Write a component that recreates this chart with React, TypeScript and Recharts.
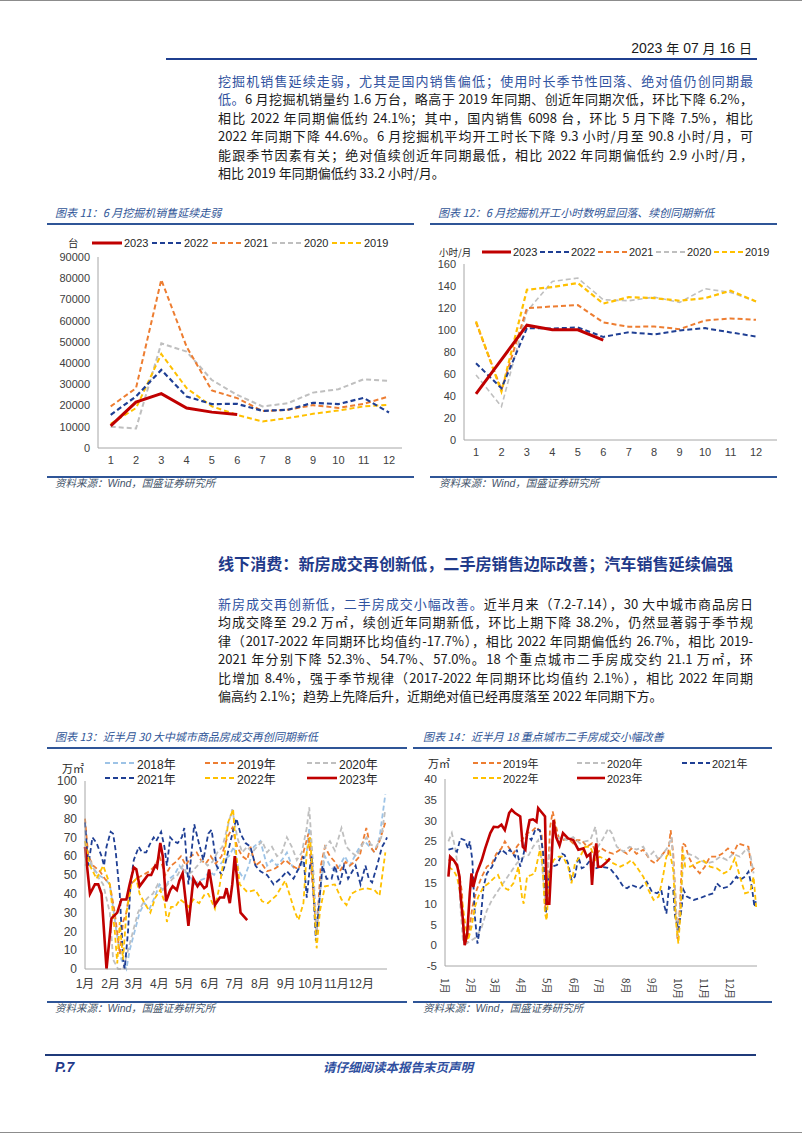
import React from "react";
import { LineChart, Line, XAxis, YAxis } from "recharts";

// ---- 图表 11 / 12 data (monthly) ----
const months = ["1", "2", "3", "4", "5", "6", "7", "8", "9", "10", "11", "12"];

const sales2023 = [10400, 21600, 25600, 18800, 16900, 15800];
const sales2022 = [15600, 24300, 36800, 24300, 20700, 20800, 17500, 18000, 21300, 20700, 23600, 16700];
const sales2021 = [19600, 28200, 79300, 47700, 27100, 23500, 17400, 18000, 20200, 18900, 20800, 24300];
const sales2020 = [10000, 9200, 49300, 45400, 32000, 25000, 19600, 21100, 26100, 27700, 32400, 31600];
const sales2019 = [11400, 18800, 44300, 28200, 19600, 15600, 12500, 14100, 16100, 17700, 19600, 20300];

const hours2023 = [42, 73, 104.4, 100.2, 100.2, 90.8];
const hours2022 = [69.8, 47, 101.7, 101.4, 102.3, 93.7, 98, 96, 99.6, 101.7, 97.8, 94.1];
const hours2021 = [106.9, 45.5, 119.9, 121.4, 122.6, 106.9, 102.9, 103.2, 100.8, 108.7, 110.5, 109.3];
const hours2020 = [59.2, 30.4, 116.9, 144.2, 147.2, 127.5, 126.6, 129.9, 125.1, 137.5, 134.2, 126];
const hours2019 = [107.8, 44, 136.6, 139, 142.7, 124, 129.9, 129, 126.6, 129, 135.7, 126];

const salesTicks = [0, 10000, 20000, 30000, 40000, 50000, 60000, 70000, 80000, 90000];
const hoursTicks = [0, 20, 40, 60, 80, 100, 120, 140, 160];

// ---- 图表 13 / 14 data: [day of year, value] ----
type Pair = [number, number];

const monthStarts = [0, 31, 59, 90, 120, 151, 181, 212, 243, 273, 304, 334];
const monthLabels = ["1月", "2月", "3月", "4月", "5月", "6月", "7月", "8月", "9月", "10月", "11月", "12月"];

const nh2018: Pair[] = [[0,60],[8,55],[16,50],[24,48],[30,45],[38,20],[44,5],[50,0],[54,10],[60,20],[66,30],[72,35],[78,32],[84,38],[90,45],[96,42],[102,48],[108,50],[114,55],[120,52],[126,50],[132,45],[138,47],[144,48],[150,52],[156,50],[162,55],[168,58],[174,60],[180,65],[186,52],[192,48],[198,55],[204,65],[212,68],[220,55],[226,58],[232,55],[238,58],[244,62],[250,55],[256,52],[262,55],[268,62],[271,75],[276,40],[280,20],[285,45],[290,60],[296,55],[302,52],[308,55],[314,60],[320,55],[326,60],[332,65],[338,68],[344,65],[350,62],[356,70],[363,93]];
const nh2019: Pair[] = [[0,80],[4,60],[10,55],[18,52],[24,48],[30,45],[36,30],[42,8],[46,25],[50,30],[55,45],[62,48],[70,50],[78,52],[85,55],[90,60],[97,50],[104,55],[110,57],[116,60],[122,55],[128,60],[135,62],[140,58],[146,56],[152,60],[158,56],[165,60],[172,70],[178,75],[184,65],[190,60],[196,58],[200,65],[206,55],[212,57],[220,52],[228,53],[235,55],[242,58],[250,55],[258,53],[264,62],[270,72],[276,40],[280,20],[285,55],[290,65],[296,60],[302,57],[308,52],[315,57],[320,55],[326,57],[332,60],[337,70],[340,75],[345,65],[350,62],[356,68],[363,78]];
const nh2020: Pair[] = [[0,55],[6,58],[14,50],[22,45],[30,30],[34,5],[40,0],[46,0],[52,10],[58,20],[64,30],[70,35],[76,38],[82,40],[88,45],[94,42],[100,45],[106,48],[112,50],[118,55],[124,50],[130,52],[136,55],[142,58],[148,55],[154,57],[160,62],[166,65],[172,75],[178,85],[184,70],[190,62],[196,65],[202,62],[208,65],[214,68],[220,62],[226,65],[232,60],[238,62],[244,70],[250,65],[256,58],[262,62],[268,75],[271,86],[275,60],[280,20],[285,45],[290,65],[296,68],[302,63],[310,75],[316,65],[322,62],[328,60],[334,65],[340,70],[346,66],[352,65],[358,70],[363,85]];
const nh2021: Pair[] = [[0,78],[4,55],[9,70],[14,67],[20,60],[23,55],[26,65],[31,73],[34,72],[37,63],[42,40],[46,5],[48,0],[52,20],[55,45],[59,58],[65,65],[69,62],[74,62],[78,66],[83,70],[86,68],[92,73],[96,65],[99,55],[103,70],[107,68],[112,67],[117,70],[120,75],[125,45],[132,77],[137,68],[143,58],[149,72],[153,74],[159,55],[165,50],[169,55],[177,70],[183,80],[188,72],[194,67],[200,65],[206,55],[212,52],[220,50],[228,45],[236,48],[244,52],[252,48],[260,55],[264,60],[268,38],[272,55],[274,60],[279,15],[283,35],[287,55],[292,48],[298,48],[302,55],[308,45],[313,55],[318,48],[327,55],[333,45],[339,55],[343,48],[347,46],[353,55],[359,65],[363,68],[365,70]];
const nh2022: Pair[] = [[0,68],[6,55],[14,48],[22,55],[30,45],[36,20],[39,3],[42,25],[46,5],[50,30],[56,45],[62,48],[66,40],[72,35],[79,30],[85,38],[91,42],[96,36],[99,25],[104,33],[109,33],[115,37],[121,35],[125,33],[131,37],[138,35],[145,40],[149,40],[157,32],[163,45],[169,62],[173,78],[179,85],[183,60],[187,45],[196,41],[206,42],[214,36],[221,35],[231,39],[242,47],[254,30],[258,26],[264,35],[268,62],[272,70],[276,44],[280,11],[284,31],[290,44],[302,45],[310,37],[316,34],[322,40],[330,42],[340,43],[350,42],[356,39],[363,62]];
const nh2023: Pair[] = [[0,65],[6,40],[12,45],[16,45],[20,40],[26,0],[32,27],[39,30],[44,37],[50,37],[54,45],[59,54],[62,53],[66,44],[71,47],[76,50],[80,50],[85,55],[87,54],[91,67],[94,60],[98,36],[103,42],[106,44],[111,42],[114,47],[118,51],[125,23],[131,48],[136,44],[139,46],[144,43],[147,44],[150,53],[153,45],[157,34],[163,38],[168,38],[171,43],[175,35],[178,45],[181,60],[188,30],[192,28],[196,26]];

const sh2019: Pair[] = [[4,20.5],[10,20.5],[16,18],[20,12.5],[21,5.2],[25,0.4],[28,2.8],[32,9.2],[37,13.3],[43,16.5],[49,18.9],[55,19.7],[60,22],[66,23.3],[70,25],[74,23.7],[80,22],[84,23.7],[90,25.3],[96,27],[101,27.3],[107,28.5],[113,27],[117,9.2],[119,10.9],[123,28.5],[126,32.2],[129,29.3],[133,26],[138,25.3],[144,25.7],[150,24.5],[154,25.3],[160,25.3],[166,23.7],[172,24.5],[177,22],[183,23.3],[189,22.5],[197,22],[205,23],[213,22],[218,23.3],[224,22],[232,23],[240,20.5],[246,19.7],[252,21.3],[257,22.5],[261,22],[264,27.7],[267,22],[270,10],[272,1.2],[275,10],[278,24.5],[281,24.1],[285,21.3],[291,18.9],[298,17.3],[304,18.9],[310,21.3],[318,21.3],[324,22],[331,23.3],[337,22],[343,24.5],[349,24.1],[355,23.7],[359,18],[363,18.9]];
const sh2020: Pair[] = [[4,25],[8,27],[12,23.3],[16,17.3],[18,9.2],[21,1.2],[25,0.4],[31,1.2],[37,2],[43,4.4],[49,8.4],[55,10.9],[60,12.5],[68,14.9],[76,17.3],[84,19.7],[92,21.3],[98,21.7],[103,23.7],[109,25.3],[113,20.5],[117,10.9],[121,20.5],[125,25.3],[131,25.7],[137,26],[142,25.3],[150,26],[158,24.5],[164,25],[170,25.3],[176,28.5],[179,23.7],[185,25.7],[191,28.1],[195,27],[201,23.7],[209,22.5],[216,23.7],[224,23],[232,23.7],[238,21.3],[244,22.5],[250,20.5],[255,22],[261,23.7],[265,26],[269,14],[272,2],[275,9.2],[279,20.5],[285,22],[293,21.3],[298,20.5],[306,19.7],[314,20.1],[322,21.3],[330,20.5],[337,22],[345,21.3],[353,23.3],[357,22],[361,17.3]];
const sh2021: Pair[] = [[4,23],[10,23.3],[14,22.5],[18,25.7],[23,25.3],[27,23.3],[29,25],[32,20.5],[35,6.8],[38,0.4],[41,4.4],[45,14],[49,17.3],[55,18.9],[60,21.3],[66,23],[72,22],[76,23],[82,21.3],[84,23],[88,18.9],[92,22],[96,26.5],[101,25.3],[106,28],[111,27.7],[115,22],[118,7.6],[121,16.5],[125,18.9],[131,19.3],[137,22],[140,21.7],[144,19.7],[148,15.7],[152,16.5],[156,21.3],[160,18.5],[164,18.9],[170,20.5],[176,18.5],[183,18.9],[193,18.5],[201,16.5],[209,14],[213,13.7],[218,14.5],[228,13.7],[236,15.3],[242,12.9],[248,12.5],[253,13.3],[257,9.2],[259,7.6],[262,14],[267,13.3],[269,7.2],[273,3.6],[276,7.6],[279,13.3],[283,11.7],[291,10.9],[298,11.3],[306,12],[314,12.5],[318,14.9],[324,13.7],[330,14],[335,14.9],[341,16.5],[345,15.7],[351,16.5],[355,17.7],[359,14],[362,9.2],[364,10.9]];
const sh2022: Pair[] = [[4,18.9],[10,18],[14,16.5],[18,12.5],[21,9.2],[23,6],[27,1.2],[31,4.4],[35,9.2],[39,11.7],[45,14],[51,14.9],[57,16.1],[62,16.9],[68,14],[74,13.3],[80,14.9],[86,18.9],[90,11.7],[92,10],[96,16.5],[101,16.9],[105,17.3],[111,23],[114,19.7],[117,7.6],[119,6],[122,17.3],[127,20.5],[133,21.3],[138,21.3],[144,18.9],[148,14.9],[152,19.7],[158,21.3],[164,23.7],[170,23.7],[176,20.5],[181,21.3],[189,20.5],[197,19.7],[205,18.9],[213,19.7],[218,20.5],[224,18.9],[232,16.5],[238,13.3],[244,10.9],[250,11.7],[255,16.5],[259,21.3],[263,22.5],[267,18],[270,6],[273,0.4],[276,9.2],[278,23],[281,18.9],[287,18.9],[294,19.7],[302,20.5],[310,18.9],[318,18.5],[326,17.3],[333,18],[339,20.9],[345,16.5],[351,12.5],[357,12.9],[361,16.5],[364,9.2]];
const sh2023: Pair[] = [[4,16.5],[6,21.3],[10,20.5],[14,19.3],[17,16.5],[18,12.5],[21,6],[23,0],[26,2.8],[29,12.5],[31,17.3],[33,14],[37,17.3],[43,20.5],[47,23.3],[53,27],[57,28.5],[62,28.4],[66,29],[70,27.7],[72,29.3],[75,31.8],[78,32.6],[82,31.8],[88,31],[91,23.7],[94,23],[96,27],[99,30.1],[103,30.3],[107,29.7],[109,33],[113,32],[117,31],[119,10],[122,10],[125,22],[127,30.1],[130,26],[134,24],[138,27],[144,25.7],[150,25.3],[156,23],[162,23.3],[166,21.3],[170,22],[172,14.5],[174,20.5],[177,24.5],[179,18.9],[183,18.9],[189,20],[193,20.9]];

const nhTicks = [0, 10, 20, 30, 40, 50, 60, 70, 80, 90, 100];
const shTicks = [-5, 0, 5, 10, 15, 20, 25, 30, 35, 40];

// ---- styles ----
const RED = "#c00000";
const NAVY = "#1f3f94";
const ORANGE = "#ed7d31";
const GRAY = "#bfbfbf";
const YELLOW = "#ffc000";
const LIGHTBLUE = "#9dc3e6";
const TITLE_BLUE = "#2f5597";
const TEXT_BLUE = "#2f52a0";

const NUM_FONT = '"Liberation Sans", Arial, "Noto Sans CJK SC", sans-serif';
const CJK_FONT = '"Noto Sans CJK SC", "Liberation Sans", sans-serif';

type Sw = { label: string; color: string; width: number; dash?: string };

const toRows = (pairs: Pair[]) => pairs.map(([d, v]) => ({ d, v }));

const monthlyRows = (series: Record<string, number[]>) =>
  months.map((m, i) => {
    const row: Record<string, string | number | undefined> = { m };
    Object.keys(series).forEach((k) => {
      row[k] = series[k][i];
    });
    return row;
  });

const salesRows = monthlyRows({ y2023: sales2023, y2022: sales2022, y2021: sales2021, y2020: sales2020, y2019: sales2019 });
const hoursRows = monthlyRows({ y2023: hours2023, y2022: hours2022, y2021: hours2021, y2020: hours2020, y2019: hours2019 });

const Abs: React.FC<{ x: number; y: number; style?: React.CSSProperties; children?: React.ReactNode }> = ({ x, y, style, children }) => (
  <div style={{ position: "absolute", left: x, top: y, whiteSpace: "nowrap", ...style }}>{children}</div>
);

// legend item: x = swatch start, y = vertical centre
const LegendItem: React.FC<{ x: number; y: number; sw: Sw; len: number; fontSize: number }> = ({ x, y, sw, len, fontSize }) => (
  <div style={{ position: "absolute", left: x, top: y - 8, height: 16, display: "flex", alignItems: "center", whiteSpace: "nowrap", fontFamily: NUM_FONT, fontSize, color: "#262626" }}>
    <svg width={len} height={6} style={{ display: "block" }}>
      <line x1={0} y1={3} x2={len} y2={3} stroke={sw.color} strokeWidth={sw.width} strokeDasharray={sw.dash} />
    </svg>
    <span style={{ marginLeft: 2 }}>{sw.label}</span>
  </div>
);

const HLine: React.FC<{ x1: number; x2: number; y: number; color?: string; w?: number }> = ({ x1, x2, y, color = TITLE_BLUE, w = 1.5 }) => (
  <div style={{ position: "absolute", left: x1, top: y - w / 2, width: x2 - x1, height: w, background: color }} />
);

const ChartTitle: React.FC<{ x: number; y: number; text: string }> = ({ x, y, text }) => (
  <Abs x={x} y={y - 8} style={{ fontFamily: CJK_FONT, fontStyle: "italic", fontSize: 11, lineHeight: "16px", color: TITLE_BLUE }}>
    {text}
  </Abs>
);

const Source: React.FC<{ x: number; y: number }> = ({ x, y }) => (
  <Abs x={x} y={y - 8} style={{ fontFamily: CJK_FONT, fontStyle: "italic", fontSize: 10.5, lineHeight: "16px", color: "#44546a" }}>
    资料来源：<span style={{ fontFamily: NUM_FONT }}>Wind</span>，国盛证券研究所
  </Abs>
);

// justified text line, centred at y
const TextLine: React.FC<{ y: number; last?: boolean; children?: React.ReactNode }> = ({ y, last, children }) => (
  <div
    style={{
      position: "absolute",
      left: 218,
      width: 535,
      top: y - 9.5,
      height: 19,
      lineHeight: "19px",
      fontFamily: CJK_FONT,
      fontSize: 13,
      color: "#1a1a1a",
      textAlign: last ? "left" : "justify",
      textAlignLast: last ? "left" : "justify",
    }}
  >
    {children}
  </div>
);

const Blue: React.FC<{ children?: React.ReactNode }> = ({ children }) => <span style={{ color: TEXT_BLUE }}>{children}</span>;

const axisTick = { fontSize: 11, fill: "#404040", fontFamily: NUM_FONT };
const axisLine = { stroke: "#a6a6a6", strokeWidth: 1 };

const RotTick = (props: any) => {
  const { x, y, payload } = props;
  return (
    <text x={x} y={y + 4} transform={`rotate(90, ${x}, ${y + 4})`} textAnchor="start" dominantBaseline="central" fontSize={10} fill="#404040" fontFamily={CJK_FONT}>
      {monthLabels[monthStarts.indexOf(payload.value)]}
    </text>
  );
};

const legend11: Sw[] = [
  { label: "2023", color: RED, width: 3 },
  { label: "2022", color: NAVY, width: 2.2, dash: "5 3" },
  { label: "2021", color: ORANGE, width: 2, dash: "5 3" },
  { label: "2020", color: GRAY, width: 2, dash: "5 3" },
  { label: "2019", color: YELLOW, width: 2, dash: "5 3" },
];

const legend13: Sw[] = [
  { label: "2018年", color: LIGHTBLUE, width: 2, dash: "5 3" },
  { label: "2019年", color: ORANGE, width: 2, dash: "5 3" },
  { label: "2020年", color: GRAY, width: 2, dash: "5 3" },
  { label: "2021年", color: NAVY, width: 2, dash: "5 3" },
  { label: "2022年", color: YELLOW, width: 2, dash: "5 3" },
  { label: "2023年", color: RED, width: 2.6 },
];

const legend14: Sw[] = legend13.slice(1);

const App: React.FC = () => {
  return (
    <div style={{ position: "absolute", left: 0, top: 0, width: 802, height: 1133, background: "#fff", overflow: "hidden" }}>
      {/* page edges */}
      <HLine x1={0} x2={802} y={0.5} color="#8c8c8c" w={1} />
      <HLine x1={0} x2={802} y={1132.5} color="#8c8c8c" w={1} />

      {/* header */}
      <Abs x={552} y={39} style={{ width: 200, textAlign: "right", fontFamily: NUM_FONT, fontSize: 14, lineHeight: "18px", color: "#1a1a1a" }}>
        2023 <span style={{ fontFamily: CJK_FONT, fontSize: 13 }}>年</span> 07 <span style={{ fontFamily: CJK_FONT, fontSize: 13 }}>月</span> 16{" "}
        <span style={{ fontFamily: CJK_FONT, fontSize: 13 }}>日</span>
      </Abs>
      <HLine x1={166} x2={757} y={59} color="#1f3f8f" w={2} />

      {/* paragraph 1 */}
      <TextLine y={80}>
        <Blue>挖掘机销售延续走弱，尤其是国内销售偏低；使用时长季节性回落、绝对值仍创同期最</Blue>
      </TextLine>
      <TextLine y={98.5}>
        <Blue>低。</Blue>6 月挖掘机销量约 1.6 万台，略高于 2019 年同期、创近年同期次低，环比下降 6.2%，
      </TextLine>
      <TextLine y={117}>相比 2022 年同期偏低约 24.1%；其中，国内销售 6098 台，环比 5 月下降 7.5%，相比</TextLine>
      <TextLine y={135.5}>2022 年同期下降 44.6%。6 月挖掘机平均开工时长下降 9.3 小时/月至 90.8 小时/月，可</TextLine>
      <TextLine y={154}>能跟季节因素有关；绝对值续创近年同期最低，相比 2022 年同期偏低约 2.9 小时/月，</TextLine>
      <TextLine y={172.5} last>
        相比 2019 年同期偏低约 33.2 小时/月。
      </TextLine>

      {/* chart 11 */}
      <ChartTitle x={55} y={212} text="图表 11：6 月挖掘机销售延续走弱" />
      <HLine x1={47} x2={414} y={224} />
      <Abs x={68} y={235} style={{ fontFamily: CJK_FONT, fontSize: 10.5, lineHeight: "16px", color: "#262626" }}>台</Abs>
      {legend11.map((s, i) => (
        <LegendItem key={s.label} x={92 + i * 60} y={243} sw={s} len={30} fontSize={11} />
      ))}
      <div style={{ position: "absolute", left: 40, top: 230 }}>
        <LineChart width={370} height={245} data={salesRows} margin={{ top: 27, right: 8, left: 8, bottom: 7 }}>
          <XAxis dataKey="m" height={20} tick={axisTick} tickLine={false} axisLine={axisLine} padding={{ left: 12.7, right: 13 }} interval={0} />
          <YAxis width={50} domain={[0, 90000]} ticks={salesTicks} tick={axisTick} tickLine={false} axisLine={axisLine} interval={0} />
          <Line dataKey="y2020" stroke={GRAY} strokeWidth={2} strokeDasharray="5 3" dot={false} isAnimationActive={false} />
          <Line dataKey="y2021" stroke={ORANGE} strokeWidth={2} strokeDasharray="5 3" dot={false} isAnimationActive={false} />
          <Line dataKey="y2019" stroke={YELLOW} strokeWidth={2} strokeDasharray="5 3" dot={false} isAnimationActive={false} />
          <Line dataKey="y2022" stroke={NAVY} strokeWidth={2.2} strokeDasharray="5 3" dot={false} isAnimationActive={false} />
          <Line dataKey="y2023" stroke={RED} strokeWidth={3} dot={false} isAnimationActive={false} />
        </LineChart>
      </div>
      <HLine x1={47} x2={414} y={477} />
      <Source x={55} y={483} />

      {/* chart 12 */}
      <ChartTitle x={438} y={212} text="图表 12：6 月挖掘机开工小时数明显回落、续创同期新低" />
      <HLine x1={430} x2={777} y={224} />
      <Abs x={439} y={244} style={{ fontFamily: CJK_FONT, fontSize: 9.5, lineHeight: "16px", color: "#262626" }}>小时/月</Abs>
      {legend11.map((s, i) => (
        <LegendItem key={s.label} x={482 + i * 58} y={252} sw={s} len={29} fontSize={11} />
      ))}
      <div style={{ position: "absolute", left: 415, top: 235 }}>
        <LineChart width={370} height={240} data={hoursRows} margin={{ top: 29, right: 8, left: 9, bottom: 15 }}>
          <XAxis dataKey="m" height={20} tick={axisTick} tickLine={false} axisLine={axisLine} padding={{ left: 12, right: 21 }} interval={0} />
          <YAxis width={40} domain={[0, 160]} ticks={hoursTicks} tick={axisTick} tickLine={false} axisLine={axisLine} interval={0} />
          <Line dataKey="y2020" stroke={GRAY} strokeWidth={1.6} strokeDasharray="5 3" dot={false} isAnimationActive={false} />
          <Line dataKey="y2021" stroke={ORANGE} strokeWidth={2} strokeDasharray="5 3" dot={false} isAnimationActive={false} />
          <Line dataKey="y2019" stroke={YELLOW} strokeWidth={2.2} strokeDasharray="5 3" dot={false} isAnimationActive={false} />
          <Line dataKey="y2022" stroke={NAVY} strokeWidth={2} strokeDasharray="5 3" dot={false} isAnimationActive={false} />
          <Line dataKey="y2023" stroke={RED} strokeWidth={3} dot={false} isAnimationActive={false} />
        </LineChart>
      </div>
      <HLine x1={430} x2={777} y={477} />
      <Source x={439} y={483} />

      {/* section heading */}
      <Abs x={218} y={553} style={{ fontFamily: CJK_FONT, fontWeight: 700, fontSize: 16.1, lineHeight: "20px", color: "#1f3a8a" }}>
        线下消费：新房成交再创新低，二手房销售边际改善；汽车销售延续偏强
      </Abs>

      {/* paragraph 2 */}
      <TextLine y={603}>
        <Blue>新房成交再创新低，二手房成交小幅改善。</Blue>近半月来（7.2-7.14），30 大中城市商品房日
      </TextLine>
      <TextLine y={621.5}>均成交降至 29.2 万㎡，续创近年同期新低，环比上期下降 38.2%，仍然显著弱于季节规</TextLine>
      <TextLine y={640}>律（2017-2022 年同期环比均值约-17.7%），相比 2022 年同期偏低约 26.7%，相比 2019-</TextLine>
      <TextLine y={658.5}>2021 年分别下降 52.3%、54.7%、57.0%。18 个重点城市二手房成交约 21.1 万㎡，环</TextLine>
      <TextLine y={677}>比增加 8.4%，强于季节规律（2017-2022 年同期环比均值约 2.1%），相比 2022 年同期</TextLine>
      <TextLine y={695.5} last>
        偏高约 2.1%；趋势上先降后升，近期绝对值已经再度落至 2022 年同期下方。
      </TextLine>

      {/* chart 13 */}
      <ChartTitle x={55} y={736} text="图表 13：近半月 30 大中城市商品房成交再创同期新低" />
      <HLine x1={47} x2={407} y={748} />
      <Abs x={62} y={762} style={{ fontFamily: CJK_FONT, fontSize: 11, lineHeight: "12px", color: "#262626" }}>万㎡</Abs>
      {legend13.map((s, i) => (
        <LegendItem key={s.label} x={[105, 205, 307][i % 3]} y={i < 3 ? 763 : 778} sw={s} len={30} fontSize={12} />
      ))}
      <div style={{ position: "absolute", left: 40, top: 755 }}>
        <LineChart width={370} height={245} margin={{ top: 26, right: 23, left: 5, bottom: 7 }}>
          <XAxis
            type="number"
            dataKey="d"
            domain={[0, 365]}
            ticks={monthStarts}
            tickFormatter={(v: number) => monthLabels[monthStarts.indexOf(v)]}
            height={24}
            tick={{ ...axisTick, fontSize: 12 }}
            tickLine={false}
            tickMargin={4}
            axisLine={axisLine}
            interval={0}
            allowDuplicatedCategory={false}
          />
          <YAxis width={40} domain={[0, 100]} ticks={nhTicks} tick={{ ...axisTick, fontSize: 12 }} tickLine={false} axisLine={axisLine} interval={0} />
          <Line data={toRows(nh2018)} dataKey="v" stroke={LIGHTBLUE} strokeWidth={1.8} strokeDasharray="5 3" dot={false} isAnimationActive={false} />
          <Line data={toRows(nh2019)} dataKey="v" stroke={ORANGE} strokeWidth={1.8} strokeDasharray="5 3" dot={false} isAnimationActive={false} />
          <Line data={toRows(nh2020)} dataKey="v" stroke={GRAY} strokeWidth={1.8} strokeDasharray="5 3" dot={false} isAnimationActive={false} />
          <Line data={toRows(nh2021)} dataKey="v" stroke={NAVY} strokeWidth={1.8} strokeDasharray="5 3" dot={false} isAnimationActive={false} />
          <Line data={toRows(nh2022)} dataKey="v" stroke={YELLOW} strokeWidth={1.8} strokeDasharray="5 3" dot={false} isAnimationActive={false} />
          <Line data={toRows(nh2023)} dataKey="v" stroke={RED} strokeWidth={2.6} dot={false} isAnimationActive={false} />
        </LineChart>
      </div>
      <HLine x1={47} x2={407} y={1002} />
      <Source x={55} y={1008} />

      {/* chart 14 */}
      <ChartTitle x={423} y={736} text="图表 14：近半月 18 重点城市二手房成交小幅改善" />
      <HLine x1={413} x2={772} y={748} />
      <Abs x={428} y={756} style={{ fontFamily: CJK_FONT, fontSize: 11, lineHeight: "14px", color: "#262626" }}>万㎡</Abs>
      {legend14.map((s, i) => (
        <LegendItem key={s.label} x={[473, 577, 682][i % 3]} y={i < 3 ? 763 : 778} sw={s} len={28} fontSize={11} />
      ))}
      <div style={{ position: "absolute", left: 410, top: 755 }}>
        <LineChart width={370} height={258} margin={{ top: 24, right: 23, left: 5, bottom: 17 }}>
          <XAxis
            type="number"
            dataKey="d"
            domain={[0, 365]}
            ticks={monthStarts}
            height={30}
            tick={<RotTick />}
            tickLine={false}
            axisLine={axisLine}
            interval={0}
            allowDuplicatedCategory={false}
          />
          <YAxis width={30} domain={[-5, 40]} ticks={shTicks} tick={{ ...axisTick, fontSize: 11.5 }} tickLine={false} axisLine={axisLine} interval={0} />
          <Line data={toRows(sh2019)} dataKey="v" stroke={ORANGE} strokeWidth={1.8} strokeDasharray="5 3" dot={false} isAnimationActive={false} />
          <Line data={toRows(sh2020)} dataKey="v" stroke={GRAY} strokeWidth={1.8} strokeDasharray="5 3" dot={false} isAnimationActive={false} />
          <Line data={toRows(sh2021)} dataKey="v" stroke={NAVY} strokeWidth={1.8} strokeDasharray="5 3" dot={false} isAnimationActive={false} />
          <Line data={toRows(sh2022)} dataKey="v" stroke={YELLOW} strokeWidth={1.8} strokeDasharray="5 3" dot={false} isAnimationActive={false} />
          <Line data={toRows(sh2023)} dataKey="v" stroke={RED} strokeWidth={2.6} dot={false} isAnimationActive={false} />
        </LineChart>
      </div>
      <HLine x1={413} x2={772} y={1002} />
      <Source x={423} y={1008} />

      {/* footer */}
      <HLine x1={45} x2={756} y={1055} color="#1f3a7a" w={2.5} />
      <Abs x={55} y={1058} style={{ fontFamily: NUM_FONT, fontWeight: 700, fontStyle: "italic", fontSize: 14, lineHeight: "18px", color: "#1f3a8a" }}>P.7</Abs>
      <Abs x={298} y={1058} style={{ width: 200, textAlign: "center", fontFamily: CJK_FONT, fontWeight: 700, fontStyle: "italic", fontSize: 12.5, lineHeight: "18px", color: "#2f4fa0" }}>
        请仔细阅读本报告末页声明
      </Abs>
    </div>
  );
};

export default App;
